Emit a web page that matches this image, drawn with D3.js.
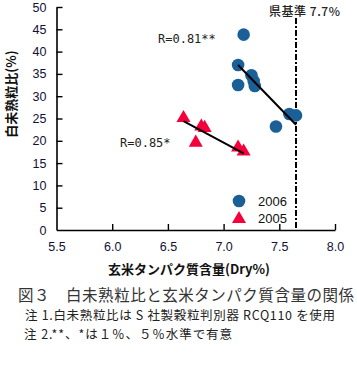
<!DOCTYPE html>
<html><head><meta charset="utf-8">
<script src="https://cdn.jsdelivr.net/npm/d3@7"></script>
<style>
body{margin:0;background:#fff;}
svg{display:block;}
</style></head>
<body>
<svg id="c" width="357" height="378"></svg>
<script>
const x2006 = [7.18, 7.13, 7.13, 7.25, 7.27, 7.28, 7.59, 7.65, 7.47];
const y2006 = [43.8, 37.0, 32.5, 34.7, 33.4, 32.3, 26.0, 25.7, 23.2];
const x2005 = [6.64, 6.80, 6.83, 6.75, 7.13, 7.18];
const y2005 = [25.1, 23.2, 22.9, 19.6, 18.5, 17.6];
const fit2006 = [[7.13, 37.0], [7.65, 23.6]];
const fit2005 = [[6.64, 24.4], [7.18, 17.2]];
const standardX = 7.65;
const xTicks = [5.5, 6.0, 6.5, 7.0, 7.5, 8.0];
const yTicks = [0, 5, 10, 15, 20, 25, 30, 35, 40, 45, 50];
const seriesNames = ["2006", "2005"];
const colors = ["#1b5f97", "#f5003a"];

const svg = d3.select("#c");
const x = d3.scaleLinear().domain([5.5, 8.0]).range([56.5, 335]);
const y = d3.scaleLinear().domain([0, 50]).range([230, 7]);

const sans = "'Liberation Sans', Arial, sans-serif";
const cjk = "'Noto Sans CJK JP', sans-serif";

// axes
const xAxis = svg.append("g").attr("transform", `translate(0,${y(0)})`)
  .call(d3.axisBottom(x).tickValues(xTicks).tickFormat(d3.format(".1f")).tickSizeInner(-6).tickSizeOuter(0).tickPadding(12));
const yAxis = svg.append("g").attr("transform", `translate(${x(5.5)},0)`)
  .call(d3.axisLeft(y).tickValues(yTicks).tickSizeInner(-6).tickSizeOuter(0).tickPadding(10));
[xAxis, yAxis].forEach(g => {
  g.select(".domain").attr("stroke", "#000").attr("stroke-width", 1.6);
  g.selectAll(".tick line").attr("stroke", "#000").attr("stroke-width", 1.4);
  g.selectAll(".tick text").attr("font-family", sans).attr("font-size", 12.5).attr("fill", "#111133");
});
xAxis.selectAll(".tick").filter(d => d === 5.5).select("line").remove();
yAxis.selectAll(".tick").filter(d => d === 0).select("line").remove();

// standard line
svg.append("line").attr("x1", x(standardX)).attr("x2", x(standardX))
  .attr("y1", 18).attr("y2", y(0))
  .attr("stroke", "#000").attr("stroke-width", 2).attr("stroke-dasharray", "6,2,2,2");
svg.append("text").attr("x", 269).attr("y", 16)
  .attr("font-family", cjk).attr("font-size", 12).attr("font-weight", 500).attr("fill", "#222")
  .attr("textLength", 71).attr("lengthAdjust", "spacing")
  .text("県基準 7.7%");

// points 2006
svg.append("g").selectAll("circle").data(x2006.map((d, i) => [d, y2006[i]])).join("circle")
  .attr("cx", d => x(d[0])).attr("cy", d => y(d[1])).attr("r", 6.3).attr("fill", colors[0]);
// points 2005
const tri = d3.symbol().type(d3.symbolTriangle).size(85);
svg.append("g").selectAll("path").data(x2005.map((d, i) => [d, y2005[i]])).join("path")
  .attr("d", tri).attr("transform", d => `translate(${x(d[0])},${y(d[1])})`).attr("fill", colors[1]);

// fit lines
const line = d3.line().x(d => x(d[0])).y(d => y(d[1]));
svg.append("path").attr("d", line(fit2006)).attr("stroke", "#000").attr("stroke-width", 2).attr("fill", "none");
svg.append("path").attr("d", line(fit2005)).attr("stroke", "#000").attr("stroke-width", 2).attr("fill", "none");

// R labels
const mono = "'DejaVu Sans Mono', 'Liberation Mono', monospace";
svg.append("text").attr("x", 158).attr("y", 43).attr("font-family", mono).attr("font-size", 12).attr("fill", "#222").text("R=0.81**");
svg.append("text").attr("x", 120).attr("y", 147).attr("font-family", mono).attr("font-size", 12).attr("fill", "#222").text("R=0.85*");

// legend
svg.append("circle").attr("cx", 239).attr("cy", 201).attr("r", 6.3).attr("fill", colors[0]);
svg.append("path").attr("d", tri).attr("transform", "translate(239,219)").attr("fill", colors[1]);
svg.append("text").attr("x", 258).attr("y", 205.5).attr("font-family", sans).attr("font-size", 13).attr("fill", "#111").text(seriesNames[0]);
svg.append("text").attr("x", 258).attr("y", 222.5).attr("font-family", sans).attr("font-size", 13).attr("fill", "#111").text(seriesNames[1]);

// axis titles
svg.append("text").attr("transform", "translate(10,94) rotate(-90)").attr("text-anchor", "middle")
  .attr("dominant-baseline", "central")
  .attr("font-family", cjk).attr("font-weight", "bold").attr("font-size", 13).attr("fill", "#111").text("白未熟粒比(%)");
svg.append("text").attr("x", 189).attr("y", 274).attr("text-anchor", "middle")
  .attr("font-family", cjk).attr("font-weight", "bold").attr("font-size", 13).attr("fill", "#111").text("玄米タンパク質含量(Dry%)");

// caption + notes
svg.append("text").attr("x", 18).attr("y", 301).attr("font-family", cjk).attr("font-size", 15.5).attr("fill", "#333")
  .attr("textLength", 336).attr("lengthAdjust", "spacing")
  .text("図３　白未熟粒比と玄米タンパク質含量の関係");
svg.append("text").attr("x", 25).attr("y", 320).attr("font-family", cjk).attr("font-size", 12.5).attr("fill", "#222")
  .attr("textLength", 310).attr("lengthAdjust", "spacing")
  .text("注 1.白未熟粒比は S 社製穀粒判別器 RCQ110 を使用");
svg.append("text").attr("x", 24).attr("y", 339).attr("font-family", cjk).attr("font-size", 12.5).attr("fill", "#222")
  .attr("textLength", 208).attr("lengthAdjust", "spacing")
  .text("注 2.**、*は１％、５％水準で有意");
</script>
</body></html>
